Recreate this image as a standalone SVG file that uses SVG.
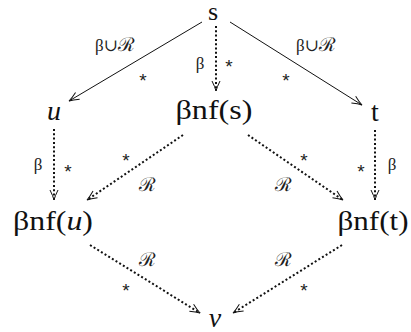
<svg xmlns="http://www.w3.org/2000/svg" width="411" height="332" viewBox="0 0 411 332">
<style>
.node{font-family:'Liberation Serif','DejaVu Serif',serif;font-size:28px;fill:#111;text-anchor:middle}
.it{font-style:italic}
.lbl{font-family:'Liberation Serif','DejaVu Serif',serif;font-size:17px;fill:#222;text-anchor:middle}
.ast{font-family:'Liberation Sans','DejaVu Sans',sans-serif;font-size:19px;fill:#222;text-anchor:middle}
.cal{font-family:'DejaVu Serif',serif;font-size:19px}
.solid{stroke:#111;stroke-width:1;fill:none}
.dot{stroke:#111;stroke-width:2;fill:none;stroke-dasharray:2 2.3}
</style>
<defs>
<marker id="ah" markerUnits="userSpaceOnUse" markerWidth="14" markerHeight="12" viewBox="-11 -6 14 12" refX="0" refY="0" orient="auto" overflow="visible">
<path d="M -10 -4 Q -4 -1 0 0 Q -4 1 -10 4" style="stroke:#111;stroke-width:1;fill:none;stroke-dasharray:none"/>
</marker>
</defs>
<g id="connectors">
<line class="solid" x1="202" y1="22" x2="69" y2="101" marker-end="url(#ah)"/>
<line class="solid" x1="230" y1="22" x2="362" y2="105" marker-end="url(#ah)"/>
<line class="dot" x1="216" y1="26" x2="216" y2="91" marker-end="url(#ah)"/>
<line class="dot" x1="54" y1="129" x2="54" y2="200" marker-end="url(#ah)"/>
<line class="dot" x1="375" y1="130" x2="375" y2="200" marker-end="url(#ah)"/>
<line class="dot" x1="183" y1="135" x2="87" y2="200" marker-end="url(#ah)"/>
<line class="dot" x1="248" y1="135" x2="343" y2="200" marker-end="url(#ah)"/>
<line class="dot" x1="90" y1="245" x2="200" y2="313" marker-end="url(#ah)"/>
<line class="dot" x1="342" y1="245" x2="233" y2="313" marker-end="url(#ah)"/>
<text class="lbl" x="115" y="51">β∪<tspan class="cal">ℛ</tspan></text>
<text class="ast" x="143" y="87">*</text>
<text class="lbl" x="200" y="69">β</text>
<text class="ast" x="229" y="73">*</text>
<text class="lbl" x="316" y="51">β∪<tspan class="cal">ℛ</tspan></text>
<text class="ast" x="286" y="87">*</text>
<text class="lbl" x="38" y="170">β</text>
<text class="ast" x="68" y="178">*</text>
<text class="ast" x="126" y="167">*</text>
<text class="lbl cal" x="147" y="191">ℛ</text>
<text class="lbl cal" x="283" y="191">ℛ</text>
<text class="ast" x="304" y="167">*</text>
<text class="ast" x="361" y="178">*</text>
<text class="lbl" x="392" y="170">β</text>
<text class="lbl cal" x="147" y="266">ℛ</text>
<text class="ast" x="126" y="297">*</text>
<text class="lbl cal" x="283" y="266">ℛ</text>
<text class="ast" x="304" y="297">*</text>
</g>
<g id="node-s"><text class="node" x="213" y="20" style="font-size:26px">s</text></g>
<g id="node-u"><text class="node it" x="54" y="120">u</text></g>
<g id="node-bnfs"><text class="node" x="214" y="119" textLength="77" lengthAdjust="spacingAndGlyphs">βnf(s)</text></g>
<g id="node-t"><text class="node" x="375" y="121">t</text></g>
<g id="node-bnfu"><text class="node" x="53" y="230" textLength="80" lengthAdjust="spacingAndGlyphs">βnf(<tspan class="it">u</tspan>)</text></g>
<g id="node-bnft"><text class="node" x="373" y="230" textLength="71" lengthAdjust="spacingAndGlyphs">βnf(t)</text></g>
<g id="node-v"><text class="node it" x="215" y="327">ν</text></g>
</svg>
